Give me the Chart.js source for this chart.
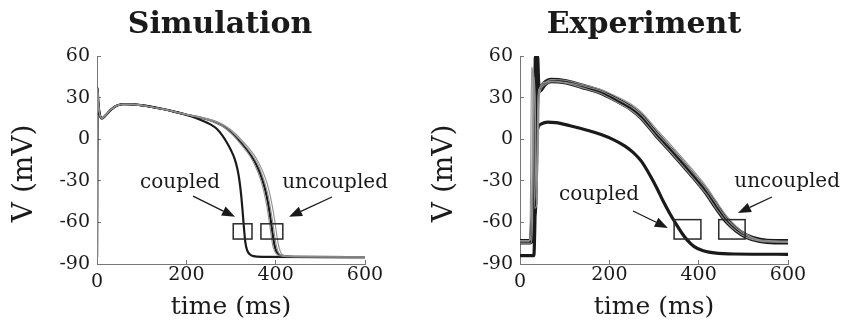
<!DOCTYPE html>
<html>
<head>
<meta charset="utf-8">
<script src="https://cdn.jsdelivr.net/npm/chart.js@4.4.1/dist/chart.umd.min.js"></script>
<style>
  html, body { margin: 0; padding: 0; background: #fff; overflow: hidden; }
  #wrap { position: relative; width: 845px; height: 325px; overflow: hidden; }
  canvas { position: absolute; top: 0; }
  .title { position: absolute; top: 5px; font: bold 30px "DejaVu Serif", serif; line-height: 36px; text-align: center; color: #1a1a1a; }
</style>
</head>
<body>
<div id="wrap">
  <canvas id="sim" width="422" height="325" style="left:0"></canvas>
  <canvas id="exp" width="423" height="325" style="left:422px"></canvas>
  <div class="title" style="left:0;width:440px">Simulation</div>
  <div class="title" style="left:422px;width:444px">Experiment</div>
</div>
<script>
// tick labels
const xTicks = [0, 200, 400, 600];
const yTicks = [-90, -60, -30, 0, 30, 60];

// simulation traces, [time ms, V mV]
const simEarly = [[0, -85], [1, 37], [3, 26], [6, 18], [11, 15], [20, 17.5], [32, 21.5], [45, 24.3], [60, 25.2], [80, 25.1], [110, 24], [150, 21.6], [180, 19.3]];
const simCoupledLate = [[210, 16.5], [235, 13.5], [255, 10.5], [268, 7.5], [280, 3], [290, -2], [300, -8], [308, -14], [314, -21], [319, -30], [323, -41], [326, -52], [329, -64], [332, -74], [336, -80], [342, -83], [350, -84.3], [370, -84.8], [600, -85]];
const simUncoupledLate = [[210, 17], [235, 15.3], [250, 14], [265, 12.3], [280, 10], [295, 6.5], [310, 2], [325, -3.5], [340, -9.5], [352, -15.5], [362, -22], [370, -29], [377, -37], [383, -46], [387, -54], [391, -63], [394, -70], [397, -76], [401, -80.5], [407, -83.2], [418, -84.3], [440, -84.8], [600, -85]];
const simCell1Late = [[210, 17.1], [235, 15.5], [250, 14.3], [265, 12.7], [280, 10.5], [295, 7.3], [310, 3], [325, -2.2], [340, -8], [352, -13.5], [362, -19.5], [370, -26], [378, -34], [384, -42], [389, -51], [393, -59], [397, -68], [400, -74], [403, -78.5], [407, -82], [414, -83.8], [425, -84.4], [450, -84.8], [600, -85]];
const simCell2Late = [[210, 17.2], [235, 15.7], [250, 14.6], [265, 13.1], [280, 11], [295, 8], [310, 4], [325, -1], [340, -6.5], [352, -11.5], [362, -17], [372, -24], [381, -32], [388, -41], [394, -51], [398, -59], [402, -68], [405, -74], [408, -78.5], [412, -82], [419, -83.8], [430, -84.4], [455, -84.8], [600, -85]];
const simCell3Late = [[210, 16.9], [235, 15.1], [250, 13.7], [265, 11.9], [280, 9.5], [295, 5.8], [310, 1], [325, -4.8], [340, -11], [350, -16.5], [359, -23], [367, -30], [374, -38.5], [380, -48], [384, -56], [388, -65], [391, -72], [394, -77.5], [398, -81], [404, -83.4], [415, -84.3], [440, -84.8], [600, -85]];

// experiment traces, [time ms, V mV]
const expCoupled = [[0, -84], [31, -84], [33, -65], [35, -30], [37, 0], [40, 8], [48, 11], [62, 12.3], [80, 12], [112, 9.7], [150, 6.5], [180, 3.5], [210, -0.5], [235, -5], [255, -10], [272, -16], [291, -26], [306, -35], [321, -45], [336, -54], [351, -62], [363, -68], [375, -73], [390, -77.5], [410, -80.5], [435, -82], [480, -82.8], [600, -83]];
const expUncoupled = [[0, -74], [22, -74], [26, -72], [30, -55], [33, -45], [35, 0], [37, 59], [39, 42], [42, 35], [46, 36], [55, 40], [70, 42.3], [100, 41.5], [140, 38], [180, 34], [215, 28.5], [250, 22], [272, 16], [305, 3.5], [343, -10], [381, -24], [418, -38.5], [440, -49], [463, -59], [485, -65.5], [507, -70], [537, -73], [570, -74], [600, -74]];
const expCell1 = [[0, -73], [22, -73], [25, -65], [28, 0], [30, 50], [33, 25], [36, -45], [40, -20], [44, 36], [55, 41], [70, 43], [100, 42.5], [140, 39.5], [180, 36], [215, 31], [250, 25], [272, 19.5], [305, 7.5], [343, -6], [381, -20], [418, -34.5], [440, -45], [463, -55.5], [485, -63], [507, -68.5], [537, -72.5], [600, -73.5]];
const expCell2 = [[0, -75], [24, -75], [28, -60], [31, 45], [34, 30], [37, -35], [41, 20], [45, 34], [55, 39], [70, 41.5], [100, 40.5], [140, 37], [180, 33], [215, 27], [250, 20.5], [272, 14.5], [305, 2], [343, -11.5], [381, -25.5], [418, -40], [440, -50.5], [463, -60], [485, -66.5], [507, -70.8], [537, -73.5], [600, -74.5]];
const expCell3 = [[0, -74], [20, -74], [23, -55], [26, 52], [29, 40], [33, -50], [37, -48], [40, 30], [44, 37], [55, 40.5], [70, 42], [100, 41], [140, 38.5], [180, 35], [215, 29.5], [250, 23.2], [272, 17.5], [305, 5], [343, -8], [381, -22], [418, -36.5], [440, -47], [463, -57.5], [485, -64.5], [507, -69.5], [537, -73], [600, -74]];

// annotations in data units: boxes [t0, t1, v0, v1], arrows [t0, v0, t1, v1], labels [text, t, v]
const simBoxes = [[305, 347, -61, -72], [367, 416, -61, -72]];
const simArrows = [[215, -41, 309, -56], [526, -41.7, 430, -56]];
const simLabels = [['coupled', 186, -31.6], ['uncoupled', 533, -31.6]];
const expBoxes = [[345, 405, -58, -72], [445, 504, -58, -72]];
const expArrows = [[253, -51.8, 331, -64], [564, -41.7, 488, -53.2]];
const expLabels = [['coupled', 177, -40.2], ['uncoupled', 598, -30.9]];

const SERIF = '"DejaVu Serif", serif';
const INK = '#1a1a1a';
const GRAY = '#909090';
const AXIS = '#777';

function toXY(pairs) {
    return pairs.map(p => ({ x: p[0], y: p[1] }));
}

function trace(pairs, color, width) {
    return {
        data: toXY(pairs),
        borderColor: color,
        borderWidth: width,
        pointRadius: 0,
        fill: false,
        cubicInterpolationMode: 'monotone'
    };
}

const notesPlugin = {
    id: 'notes',
    afterDatasetsDraw(chart, args, opts) {
        const { ctx, scales: { x, y } } = chart;
        ctx.save();
        ctx.strokeStyle = '#2a2a2a';
        ctx.lineWidth = 1.5;
        opts.boxes.forEach(b => {
            const x0 = x.getPixelForValue(b[0]), x1 = x.getPixelForValue(b[1]);
            const y0 = y.getPixelForValue(b[2]), y1 = y.getPixelForValue(b[3]);
            ctx.strokeRect(x0, y0, x1 - x0, y1 - y0);
        });
        ctx.fillStyle = INK;
        ctx.strokeStyle = INK;
        ctx.lineWidth = 1.3;
        opts.arrows.forEach(a => {
            const sx = x.getPixelForValue(a[0]), sy = y.getPixelForValue(a[1]);
            const ex = x.getPixelForValue(a[2]), ey = y.getPixelForValue(a[3]);
            const ang = Math.atan2(ey - sy, ex - sx);
            const len = 13, half = 5;
            const bx = ex - len * Math.cos(ang), by = ey - len * Math.sin(ang);
            ctx.beginPath();
            ctx.moveTo(sx, sy);
            ctx.lineTo(bx, by);
            ctx.stroke();
            ctx.beginPath();
            ctx.moveTo(ex, ey);
            ctx.lineTo(bx + half * Math.sin(ang), by - half * Math.cos(ang));
            ctx.lineTo(bx - half * Math.sin(ang), by + half * Math.cos(ang));
            ctx.closePath();
            ctx.fill();
        });
        ctx.font = '20px ' + SERIF;
        ctx.textAlign = 'center';
        ctx.textBaseline = 'middle';
        opts.labels.forEach(l => {
            ctx.fillText(l[0], x.getPixelForValue(l[1]), y.getPixelForValue(l[2]));
        });
        ctx.restore();
    }
};

function makeChart(id, datasets, yWidth, yTitlePad, notes) {
    return new Chart(document.getElementById(id), {
        type: 'line',
        data: { datasets: datasets },
        plugins: [notesPlugin],
        options: {
            responsive: false,
            animation: false,
            devicePixelRatio: 1,
            layout: { padding: { top: 56, right: 57, bottom: 0, left: 0 } },
            plugins: {
                legend: { display: false },
                tooltip: { enabled: false },
                notes: notes
            },
            scales: {
                x: {
                    type: 'linear',
                    min: 0,
                    max: 600,
                    afterBuildTicks: s => { s.ticks = xTicks.map(v => ({ value: v })); },
                    afterFit: s => { s.height = 61; },
                    ticks: {
                        color: INK,
                        padding: 4,
                        maxRotation: 0,
                        autoSkip: false,
                        font: c => ({ family: SERIF, size: 19, lineHeight: c.index === 0 ? 1.9 : 1.2 })
                    },
                    grid: { drawOnChartArea: false, drawTicks: true, tickLength: -4, color: AXIS },
                    border: { display: true, color: AXIS, width: 1 },
                    title: { display: true, text: 'time (ms)', color: INK, font: { family: SERIF, size: 25 }, padding: { top: 0, bottom: 3 } }
                },
                y: {
                    min: -90,
                    max: 60,
                    afterBuildTicks: s => { s.ticks = yTicks.map(v => ({ value: v })); },
                    afterFit: s => { s.width = yWidth; },
                    ticks: { color: INK, padding: 11, font: { family: SERIF, size: 19 } },
                    grid: { drawOnChartArea: false, drawTicks: true, tickLength: -4, color: AXIS },
                    border: { display: true, color: AXIS, width: 1 },
                    title: { display: true, text: 'V (mV)   ', color: INK, font: { family: SERIF, size: 28 }, padding: { top: yTitlePad, bottom: 0 } }
                }
            }
        }
    });
}

makeChart('sim', [
    trace(simEarly.concat(simCell1Late), GRAY, 1.1),
    trace(simEarly.concat(simCell2Late), GRAY, 1.1),
    trace(simEarly.concat(simCell3Late), GRAY, 1.1),
    trace(simEarly.concat(simUncoupledLate), INK, 2.2),
    trace(simEarly.concat(simCoupledLate), INK, 2.2)
], 97, 8, { boxes: simBoxes, arrows: simArrows, labels: simLabels });

makeChart('exp', [
    trace(expCell1, GRAY, 1.1),
    trace(expCell2, GRAY, 1.1),
    trace(expCell3, GRAY, 1.1),
    trace(expUncoupled, INK, 5.5),
    trace(expCoupled, INK, 3.2)
], 98, 6, { boxes: expBoxes, arrows: expArrows, labels: expLabels });
</script>
</body>
</html>
